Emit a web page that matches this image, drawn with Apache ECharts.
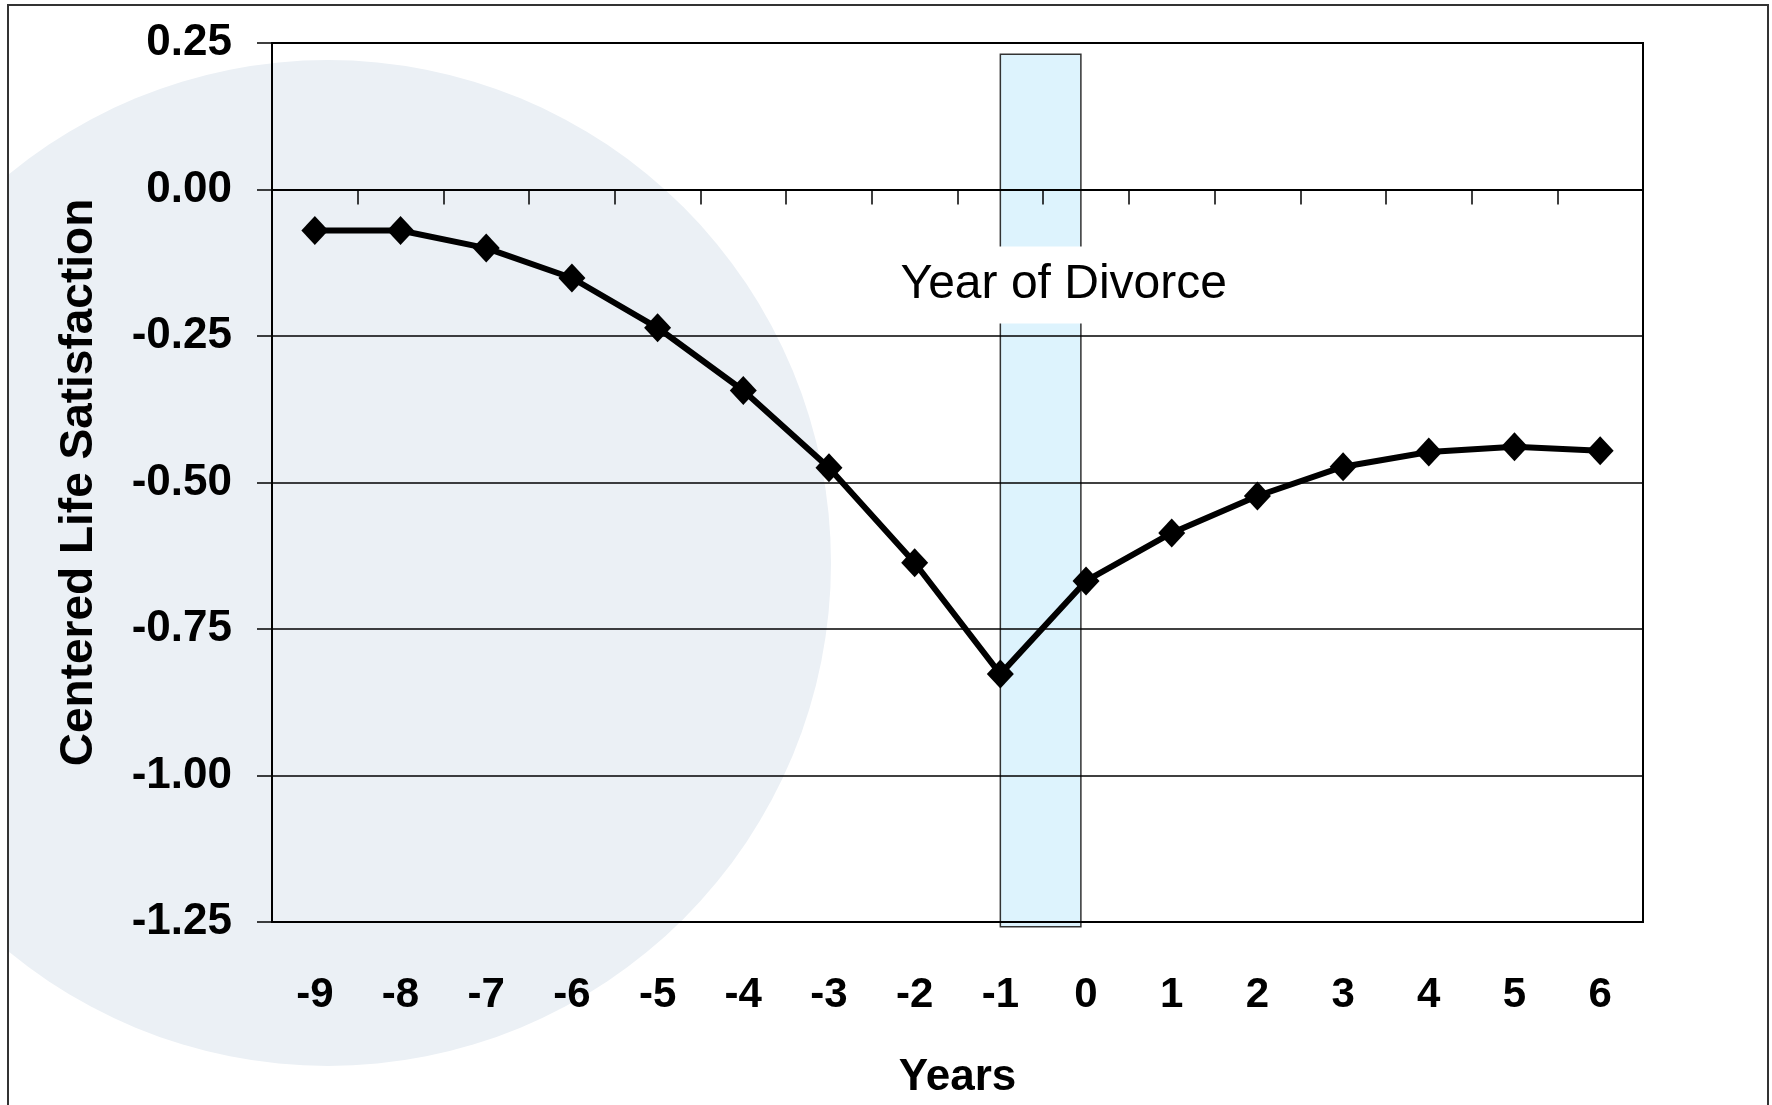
<!DOCTYPE html>
<html>
<head>
<meta charset="utf-8">
<script src="https://cdn.jsdelivr.net/npm/echarts@6/dist/echarts.min.js"></script>
<style>
html,body{margin:0;padding:0;background:#fff;}
#chart{width:1772px;height:1105px;}
</style>
</head>
<body>
<div id="chart"></div>
<script>
// ---- data ----
const years = ['-9','-8','-7','-6','-5','-4','-3','-2','-1','0','1','2','3','4','5','6'];
const satisfaction = [-0.07, -0.07, -0.10, -0.151, -0.236, -0.343, -0.475, -0.637, -0.827, -0.668, -0.586, -0.523, -0.473, -0.448, -0.439, -0.446];
const yMin = -1.25, yMax = 0.25, yStep = 0.25;
// divorce-year band, in axis units: [xStart, yTop, xEnd, yBottom]
const divorceBand = [-1.0, 0.231, -0.06, -1.258];
const bandLabel = 'Year of Divorce';
const bandLabelPos = [-0.26, -0.163];

const FONT = "'Liberation Sans', Arial, Helvetica, sans-serif";
const chart = echarts.init(document.getElementById('chart'));

const option = {
  animation: false,
  backgroundColor: '#ffffff',
  graphic: [
    { type: 'circle', z: -20, silent: true, shape: { cx: 328, cy: 563, r: 503 }, style: { fill: '#EBF0F5' } },
    { type: 'rect', z: -19, silent: true, shape: { x: 0, y: 0, width: 8, height: 1105 }, style: { fill: '#ffffff' } },
    { type: 'rect', z: 100, silent: true, shape: { x: 8, y: 5, width: 1760, height: 1110 }, style: { fill: 'none', stroke: '#333', lineWidth: 2 } }
  ],
  grid: {
    left: 272, right: 129, top: 43, bottom: 175,
    show: true, borderColor: '#000', borderWidth: 2, backgroundColor: 'transparent'
  },
  xAxis: [
    {
      type: 'category', data: years, position: 'bottom', boundaryGap: true,
      axisLine: { show: false, onZero: false },
      axisTick: { show: false },
      axisLabel: { margin: 52, color: '#000', fontFamily: FONT, fontWeight: 'bold', fontSize: 42 },
      name: 'Years', nameLocation: 'middle', nameGap: 134,
      nameTextStyle: { color: '#000', fontFamily: FONT, fontWeight: 'bold', fontSize: 44 },
      splitLine: { show: false }
    },
    {
      type: 'category', data: years, position: 'bottom', boundaryGap: true,
      axisLine: { show: true, onZero: true, lineStyle: { color: '#000', width: 2 } },
      axisTick: { show: true, inside: false, length: 15, lineStyle: { color: '#000', width: 1.5 } },
      axisLabel: { show: false },
      splitLine: { show: false }
    },
    {
      type: 'value', min: -9.5, max: 6.5, show: false, splitLine: { show: false }
    }
  ],
  yAxis: {
    type: 'value', min: yMin, max: yMax, interval: yStep,
    axisLine: { show: true, onZero: false, lineStyle: { color: '#000', width: 2 } },
    axisTick: { show: true, inside: false, length: 15, lineStyle: { color: '#000', width: 1.5 } },
    axisLabel: {
      margin: 40, color: '#000', fontFamily: FONT, fontWeight: 'bold', fontSize: 44,
      padding: [4, 0, 0, 0],
      formatter: v => v.toFixed(2)
    },
    splitLine: { show: true, lineStyle: { color: '#000', width: 1.5 } },
    name: 'Centered Life Satisfaction', nameLocation: 'middle', nameGap: 170,
    nameTextStyle: { color: '#000', fontFamily: FONT, fontWeight: 'bold', fontSize: 46 }
  },
  series: [
    {
      type: 'custom', xAxisIndex: 2, yAxisIndex: 0, z: -1, clip: false, silent: true,
      encode: { x: [0, 2], y: [1, 3] },
      data: [divorceBand],
      renderItem: function (params, api) {
        const p1 = api.coord([api.value(0), api.value(1)]);
        const p2 = api.coord([api.value(2), api.value(3)]);
        const t = api.coord(bandLabelPos);
        return {
          type: 'group',
          children: [
            { type: 'rect', shape: { x: p1[0], y: p1[1], width: p2[0] - p1[0], height: p2[1] - p1[1] },
              style: { fill: '#DDF3FD', stroke: '#333', lineWidth: 1.5 } },
            { type: 'text', x: t[0], y: t[1],
              style: { text: bandLabel, fill: '#000', fontFamily: FONT, fontSize: 48, lineHeight: 48,
                       align: 'center', verticalAlign: 'middle', backgroundColor: '#ffffff', padding: [17, 8, 12, 8] } }
          ]
        };
      }
    },
    {
      type: 'line', xAxisIndex: 0, yAxisIndex: 0, data: satisfaction, z: 5,
      symbol: 'diamond', symbolSize: [27, 29],
      lineStyle: { color: '#000', width: 6 },
      itemStyle: { color: '#000' }
    }
  ]
};
chart.setOption(option);
</script>
</body>
</html>
